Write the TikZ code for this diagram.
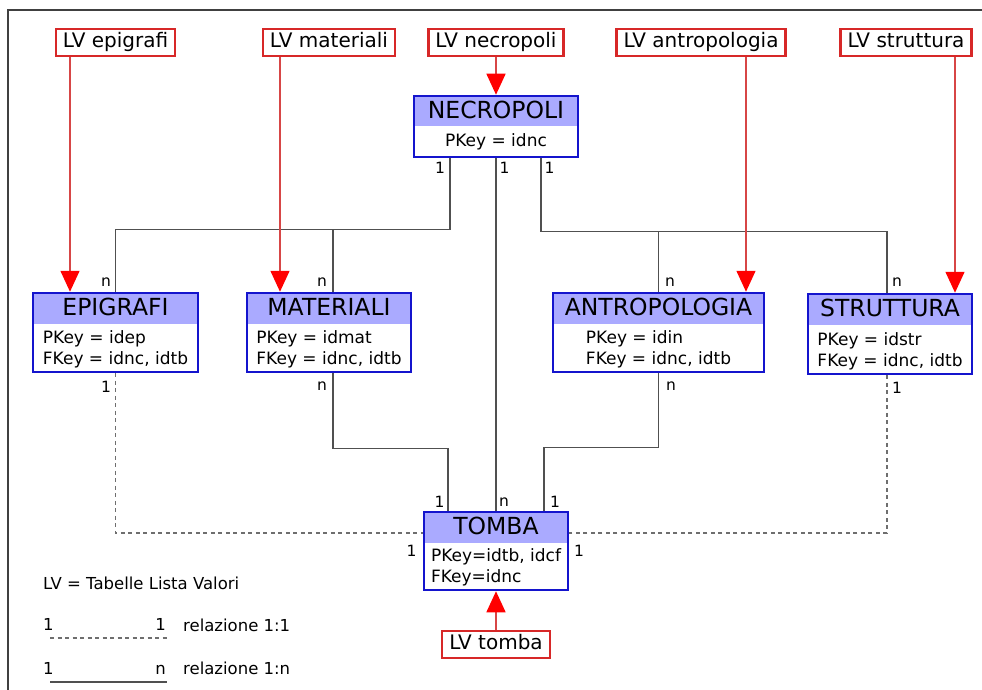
\documentclass[tikz,border=0pt]{standalone}
\usepackage{fontspec}
\setmainfont{DejaVu Sans}
\usepackage{tikz}
\usetikzlibrary{arrows.meta}

\definecolor{entblue}{RGB}{20,20,205}
\definecolor{enthead}{RGB}{170,170,255}
\definecolor{lvred}{RGB}{215,40,40}
\definecolor{lvline}{RGB}{215,70,70}
\definecolor{relgray}{RGB}{80,80,80}
\definecolor{dashgray}{RGB}{110,110,110}

\begin{document}
\begin{tikzpicture}[x=1pt, y=-1pt, every node/.style={inner sep=0pt},
  entity/.style={draw=entblue, line width=2.5pt, fill=white,
    path picture={\fill[enthead] (path picture bounding box.north west)
      rectangle ([yshift=-30.5pt]path picture bounding box.north east);}},
  enttitle/.style={font=\fontsize{23.5}{28}\selectfont, anchor=base},
  entbody/.style={font=\fontsize{17}{21.5}\selectfont, align=left},
  lvbox/.style={draw=lvred, line width=2.4pt, fill=white, font=\fontsize{20}{24}\selectfont,
    inner xsep=7pt, minimum height=27pt, text height=15pt, text depth=5pt},
  card/.style={font=\fontsize{15.5}{18}\selectfont},
  legtext/.style={font=\fontsize{16.5}{20}\selectfont},
  rel/.style={draw=relgray, line width=1.5pt},
  rel11/.style={draw=dashgray, line width=1.5pt, dash pattern=on 4pt off 3.5pt},
  lvarr/.style={draw=lvline, line width=1.5pt, -{Triangle[length=21pt,width=19pt,color=red]}},
  frame/.style={draw=black!75, line width=1.2pt}]
  \useasboundingbox (0,0) rectangle (982,690);
  \draw[frame] (982,10) -- (8,10) -- (8,690);

  % value lists
  \node[lvbox] (lvep)  at (115.5,42.5) {LV epigrafi};
  \node[lvbox] (lvmat) at (329,42.5)   {LV materiali};
  \node[lvbox] (lvnec) at (496,42.5)   {LV necropoli};
  \node[lvbox] (lvant) at (701,42.5)   {LV antropologia};
  \node[lvbox] (lvstr) at (906,42.5)   {LV struttura};
  \node[lvbox] (lvtom) at (496,644.5)  {LV tomba};

  % tables
  \node[entity, minimum width=164pt, minimum height=61pt] (necro) at (496,126.5) {};
  \node[enttitle] (necroT) at ([yshift=-24pt]necro.north) {NECROPOLI};
  \node[entbody] (necroB) at ([yshift=16.5pt]necro.south) {PKey = idnc};

  \node[entity, minimum width=165pt, minimum height=79pt] (epig) at (115.5,332.5) {};
  \node[enttitle] (epigT) at ([yshift=-24pt]epig.north) {EPIGRAFI};
  \node[entbody] (epigB) at ([yshift=23.7pt]epig.south) {PKey = idep\\FKey = idnc, idtb};

  \node[entity, minimum width=164pt, minimum height=79pt] (mat) at (329,332.5) {};
  \node[enttitle] (matT) at ([yshift=-24pt]mat.north) {MATERIALI};
  \node[entbody] (matB) at ([yshift=23.7pt]mat.south) {PKey = idmat\\FKey = idnc, idtb};

  \node[entity, minimum width=211pt, minimum height=79pt] (antr) at (658.5,332.5) {};
  \node[enttitle] (antrT) at ([yshift=-24pt]antr.north) {ANTROPOLOGIA};
  \node[entbody] (antrB) at ([yshift=23.7pt]antr.south) {PKey = idin\\FKey = idnc, idtb};

  \node[entity, minimum width=164pt, minimum height=80pt] (strut) at (890,334) {};
  \node[enttitle] (strutT) at ([yshift=-24pt]strut.north) {STRUTTURA};
  \node[entbody] (strutB) at ([yshift=23.7pt]strut.south) {PKey = idstr\\FKey = idnc, idtb};

  \node[entity, minimum width=144pt, minimum height=78pt] (tomba) at (496,551) {};
  \node[enttitle] (tombaT) at ([yshift=-24pt]tomba.north) {TOMBA};
  \node[entbody] (tombaB) at ([yshift=23.7pt]tomba.south) {PKey=idtb, idcf\\FKey=idnc};

  % relations
  \draw[rel] ([xshift=-46pt]necro.south) -- ++(0,71) coordinate (jl) -| (epig.north);
  \draw[rel] ([xshift=4pt]mat.north) -- ([xshift=4pt]mat.north |- jl);
  \draw[rel] ([xshift=45pt]necro.south) -- ++(0,73) coordinate (jr) -| ([xshift=-3pt]strut.north);
  \draw[rel] (antr.north) -- (antr.north |- jr);
  \draw[rel] (necro.south) -- (tomba.north);
  \draw[rel] ([xshift=4pt]mat.south) -- ++(0,75) -| ([xshift=-48pt]tomba.north);
  \draw[rel] (antr.south) -- ++(0,74) -| ([xshift=48pt]tomba.north);
  \draw[rel11] (epig.south) |- ([yshift=18pt]tomba.west);
  \draw[rel11] ([xshift=-3pt]strut.south) |- ([yshift=18pt]tomba.east);

  \draw[lvarr] ([xshift=-45.5pt]lvep.south) -- ([xshift=-45.5pt]epig.north);
  \draw[lvarr] ([xshift=-49pt]lvmat.south) -- ([xshift=-49pt]mat.north);
  \draw[lvarr] (lvnec.south) -- (necro.north);
  \draw[lvarr] ([xshift=45pt]lvant.south) -- ([xshift=87.5pt]antr.north);
  \draw[lvarr] ([xshift=49pt]lvstr.south) -- ([xshift=65pt]strut.north);
  \draw[lvarr] (lvtom.north) -- (tomba.south);

  % cardinalities
  \node[card] (nc1) at (440,168) {1};
  \node[card] (nc2) at (504.5,168) {1};
  \node[card] (nc3) at (549.5,168) {1};
  \node[card] (ep1) at (106,282) {n};
  \node[card] (mt1) at (322,282) {n};
  \node[card] (an1) at (670,282) {n};
  \node[card] (st1) at (897,282) {n};
  \node[card] (ep2) at (106,387) {1};
  \node[card] (mt2) at (322,386) {n};
  \node[card] (an2) at (671,386) {n};
  \node[card] (st2) at (897,388) {1};
  \node[card] (tb1) at (439.5,502) {1};
  \node[card] (tb2) at (504,502) {n};
  \node[card] (tb3) at (555,502) {1};
  \node[card] (tb4) at (411.5,551) {1};
  \node[card] (tb5) at (579,551) {1};

  % legend
  \node[legtext, anchor=base west] (leglv) at (43,589) {LV = Tabelle Lista Valori};
  \node[legtext, anchor=base west] (leg1a) at (43,630) {1};
  \node[legtext, anchor=base east] (leg1b) at (166,630) {1};
  \node[legtext, anchor=base west] (leg11) at (183,631) {relazione 1:1};
  \coordinate (d1) at (50,638);
  \coordinate (d2) at (167,638);
  \draw[rel11] (d1) -- (d2);
  \node[legtext, anchor=base west] (leg2a) at (43,674) {1};
  \node[legtext, anchor=base east] (leg2b) at (166,674) {n};
  \node[legtext, anchor=base west] (leg1n) at (183,674) {relazione 1:n};
  \coordinate (s1) at (50,682);
  \coordinate (s2) at (167,682);
  \draw[rel] (s1) -- (s2);
\end{tikzpicture}
\end{document}
